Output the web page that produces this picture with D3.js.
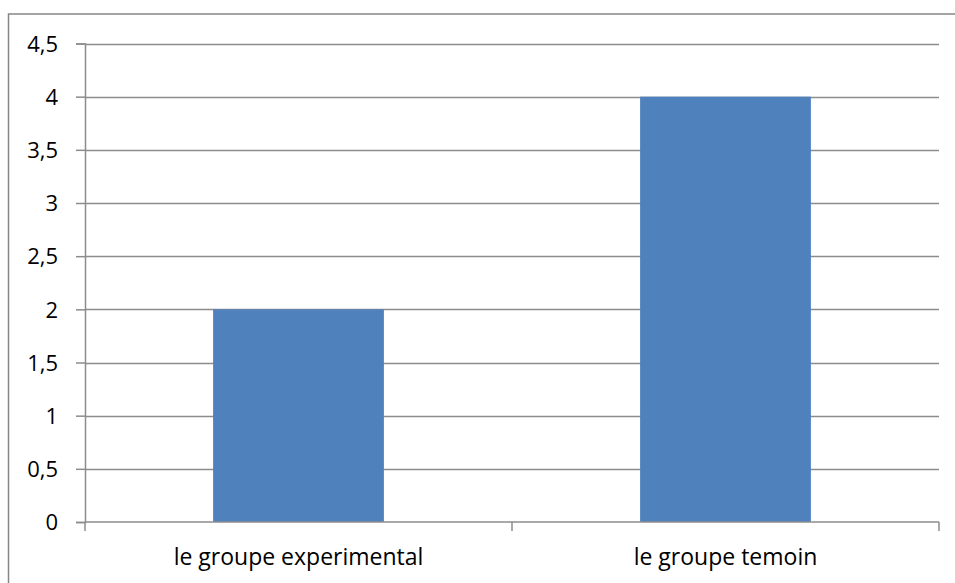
<!DOCTYPE html>
<html>
<head>
<meta charset="utf-8">
<script src="https://cdn.jsdelivr.net/npm/d3@7"></script>
<style>
  html, body { margin: 0; padding: 0; background: #fff; }
  svg { display: block; }
  text { font-family: "Open Sans", "Noto Sans", sans-serif; fill: #000; }
</style>
</head>
<body>
<svg id="chart" width="955" height="583"></svg>
<script>
// Chart data
const categories = ["le groupe experimental", "le groupe temoin"];
const values = [2, 4];
const yTicks = [0, 0.5, 1, 1.5, 2, 2.5, 3, 3.5, 4, 4.5];
const yTickLabels = ["0", "0,5", "1", "1,5", "2", "2,5", "3", "3,5", "4", "4,5"];

const svg = d3.select("#chart");
const W = 955, H = 583;
const plot = { left: 85, right: 939, top: 43.5, bottom: 522 };
const gridColor = "#8c8c8c";
const barColor = "#4f81bd";

// Outer chart frame (left and top edges visible in the window)
svg.append("rect")
  .attr("x", 8.5).attr("y", 14)
  .attr("width", W + 10).attr("height", H + 10)
  .attr("fill", "#fff")
  .attr("stroke", "#868686").attr("stroke-width", 1.5);

const x = d3.scaleBand().domain(categories).range([plot.left, plot.right]).padding(0);
const y = d3.scaleLinear().domain([0, 4.5]).range([plot.bottom, plot.top]);

// Horizontal gridlines
svg.append("g")
  .selectAll("line")
  .data(yTicks.filter(d => d > 0))
  .join("line")
  .attr("x1", plot.left).attr("x2", plot.right)
  .attr("y1", d => Math.round(y(d)) + 0.5).attr("y2", d => Math.round(y(d)) + 0.5)
  .attr("stroke", gridColor).attr("stroke-width", 1.5);

// Bars: width is 40% of each category slot
const barW = x.bandwidth() * 0.4;
svg.append("g")
  .selectAll("rect")
  .data(categories.map((c, i) => ({ c, v: values[i] })))
  .join("rect")
  .attr("x", d => x(d.c) + (x.bandwidth() - barW) / 2)
  .attr("width", barW)
  .attr("y", d => y(d.v))
  .attr("height", d => y(0) - y(d.v))
  .attr("fill", barColor);

// Y axis
const yAxis = d3.axisLeft(y)
  .tickValues(yTicks)
  .tickFormat((d, i) => yTickLabels[i])
  .tickSize(9)
  .tickPadding(18);
const gy = svg.append("g").attr("transform", `translate(${plot.left},0)`).call(yAxis);
gy.attr("font-size", null).attr("font-family", null);
gy.select(".domain").attr("stroke", gridColor).attr("stroke-width", 1.5);
gy.selectAll(".tick line").attr("stroke", gridColor).attr("stroke-width", 1.5);
gy.selectAll(".tick text")
  .attr("font-size", 22)
  .attr("dy", "0.35em")
  .attr("fill", "#000");

// X axis line with boundary ticks between categories
const gx = svg.append("g");
gx.append("line")
  .attr("x1", plot.left).attr("x2", plot.right)
  .attr("y1", plot.bottom).attr("y2", plot.bottom)
  .attr("stroke", gridColor).attr("stroke-width", 1.5);
const bounds = [plot.left, ...categories.map(c => x(c) + x.bandwidth())];
gx.selectAll("line.tk")
  .data(bounds)
  .join("line")
  .attr("class", "tk")
  .attr("x1", d => d).attr("x2", d => d)
  .attr("y1", plot.bottom).attr("y2", plot.bottom + 9)
  .attr("stroke", gridColor).attr("stroke-width", 1.5);
gx.selectAll("text")
  .data(categories)
  .join("text")
  .attr("x", d => x(d) + x.bandwidth() / 2)
  .attr("y", 565)
  .attr("text-anchor", "middle")
  .attr("font-size", 23)
  .text(d => d);
</script>
</body>
</html>
